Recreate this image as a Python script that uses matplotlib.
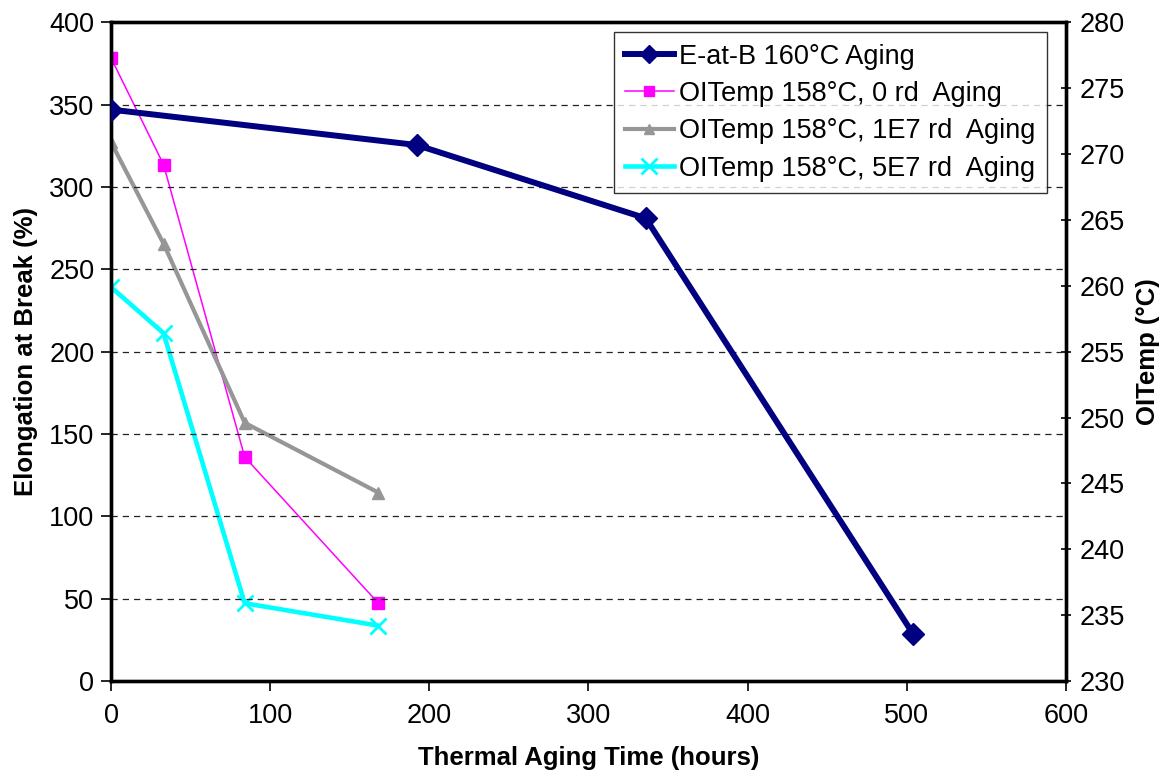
import matplotlib
matplotlib.use('Agg')
import matplotlib.pyplot as plt
from matplotlib.lines import Line2D

plt.rcParams['font.family'] = ['Liberation Sans', 'DejaVu Sans']

# Elongation at break (left axis)
eab_hours = [0, 192, 336, 504]
eab_values = [347, 325.5, 281, 28.5]

# OITemp series (right axis)
oit_hours = [0, 33, 84, 168]
oit_0rd = [277.3, 269.2, 247.0, 235.9]
oit_1e7 = [270.9, 263.2, 249.6, 244.3]
oit_5e7 = [259.9, 256.4, 235.9, 234.2]

labels = ['E-at-B 160°C Aging',
          'OITemp 158°C, 0 rd  Aging',
          'OITemp 158°C, 1E7 rd  Aging',
          'OITemp 158°C, 5E7 rd  Aging']

fig = plt.figure(figsize=(11.71, 7.75), dpi=100)
ax = fig.add_axes([0.0948, 0.1213, 0.8155, 0.8499])
ax2 = ax.twinx()

# gridlines at the left-axis ticks
for v in range(50, 400, 50):
    ax.axhline(v, color='#222222', linestyle=(0, (5, 4)), linewidth=0.9, zorder=0)

ax.plot(eab_hours, eab_values, color='#000080', linewidth=4.3, marker='D',
        markersize=11, zorder=5)
ax2.plot(oit_hours, oit_0rd, color='#FF00FF', linewidth=1.1, marker='s',
         markersize=8)
ax2.plot(oit_hours, oit_1e7, color='#969696', linewidth=3, marker='^',
         markersize=8)
ax2.plot(oit_hours, oit_5e7, color='#00FFFF', linewidth=3.3, marker='x',
         markersize=11, markeredgewidth=2)
ax.set_zorder(ax2.get_zorder() + 1)
ax.patch.set_visible(False)

ax.set_xlim(0, 600)
ax.set_ylim(0, 400)
ax2.set_ylim(230, 280)
ax.set_xticks(range(0, 601, 100))
ax.set_yticks(range(0, 401, 50))
ax2.set_yticks(range(230, 281, 5))

for a in (ax, ax2):
    for s in a.spines.values():
        s.set_linewidth(2.4)
        s.set_color('black')
ax.tick_params(axis='both', labelsize=19.5, width=1.2, length=7, direction='out')
ax.tick_params(axis='x', pad=9)
ax.tick_params(axis='y', pad=5)
ax2.tick_params(axis='y', labelsize=19.5, width=1.2, length=7, direction='inout', pad=6)

ax.set_xlabel('Thermal Aging Time (hours)', fontsize=18.5, fontweight='bold', labelpad=12)
ax.set_ylabel('Elongation at Break (%)', fontsize=18.5, fontweight='bold', labelpad=8)
ax2.set_ylabel('OITemp (°C)', fontsize=18.5, fontweight='bold', labelpad=8)

handles = [
    Line2D([], [], color='#000080', linewidth=4.3, marker='D', markersize=9),
    Line2D([], [], color='#FF00FF', linewidth=1.1, marker='s', markersize=7),
    Line2D([], [], color='#969696', linewidth=3, marker='^', markersize=7),
    Line2D([], [], color='#00FFFF', linewidth=3.3, marker='x', markersize=11, markeredgewidth=2),
]
leg = ax.legend(handles, labels, loc='upper right', bbox_to_anchor=(0.980, 0.985),
                fontsize=19.5, frameon=True, fancybox=False, handlelength=1.8,
                handletextpad=0.2, borderpad=0.42, labelspacing=0.42, borderaxespad=0)
leg.get_frame().set_edgecolor('black')
leg.get_frame().set_linewidth(1.0)

fig.savefig('out.png', dpi=100)
